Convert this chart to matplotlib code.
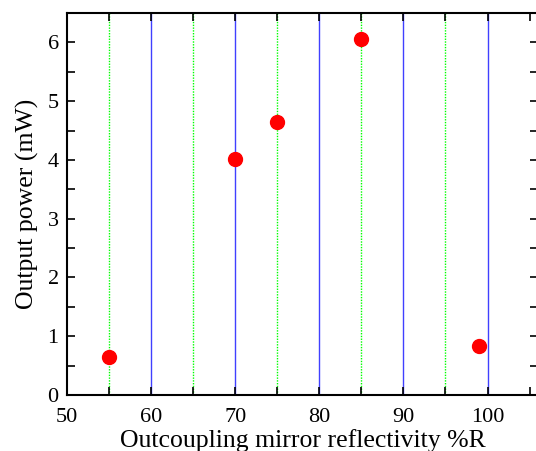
import matplotlib
matplotlib.use("Agg")
import matplotlib.pyplot as plt
from matplotlib.ticker import MultipleLocator

# data
reflectivity = [55, 70, 75, 85, 99]
power = [0.65, 4.02, 4.65, 6.05, 0.83]
blue_lines = [60, 70, 80, 90, 100]
green_lines = [55, 65, 75, 85, 95]

plt.rcParams['font.family'] = ['Liberation Serif', 'DejaVu Serif']

fig = plt.figure(figsize=(5.36, 4.51), dpi=100)
# right spine sits just past the image edge, as in the reference
ax = fig.add_axes([67/536, 56/451, (538-67)/536, (395-13)/451])

for x in blue_lines:
    ax.axvline(x, color='#4040ff', lw=1.0, zorder=1)
for x in green_lines:
    ax.axvline(x, color='#00ff00', lw=1.0, ls=(0, (1, 1)), zorder=1)

ax.plot(reflectivity, power, 'o', color='red', ms=10, zorder=3)

ax.set_xlim(50, 106)
ax.set_ylim(0, 6.5)
ax.xaxis.set_major_locator(MultipleLocator(10))
ax.xaxis.set_minor_locator(MultipleLocator(5))
ax.yaxis.set_major_locator(MultipleLocator(1))
ax.yaxis.set_minor_locator(MultipleLocator(0.5))
ax.tick_params(which='both', direction='in', top=True, right=True, width=1.2)
ax.tick_params(which='major', length=6, labelsize=16)
ax.tick_params(which='minor', length=6)
ax.tick_params(axis='x', pad=9)
ax.tick_params(axis='y', pad=6)
for s in ax.spines.values():
    s.set_linewidth(1.5)

ax.set_xlabel('Outcoupling mirror reflectivity %R', fontsize=18.5, labelpad=2)
ax.set_ylabel('Output power (mW)', fontsize=18.5, labelpad=6)

fig.savefig('out.png', dpi=100)
